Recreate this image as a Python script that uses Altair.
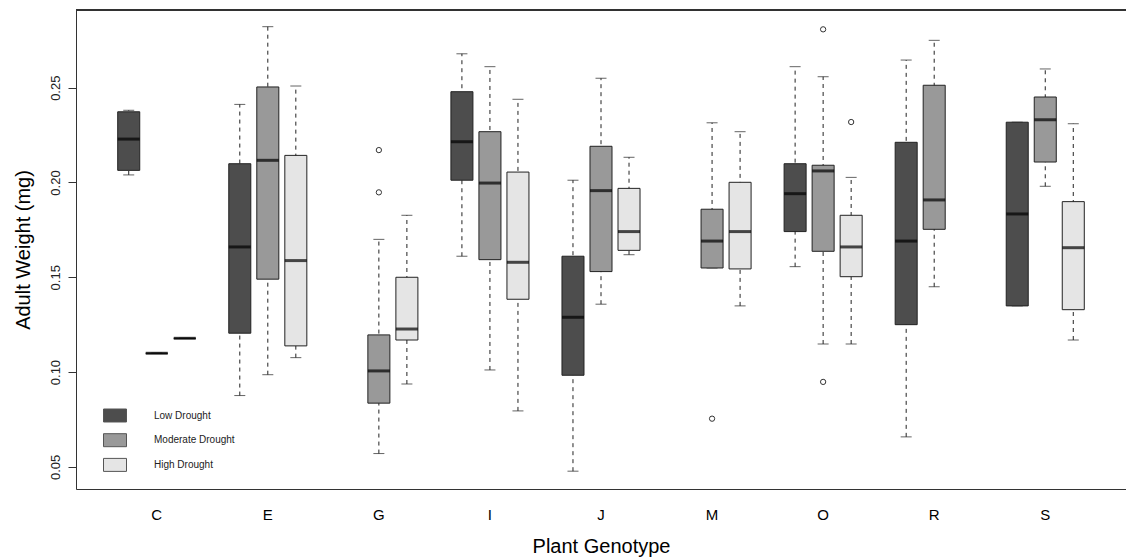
import altair as alt
import pandas as pd

genotypes = ["C", "E", "G", "I", "J", "M", "O", "R", "S"]
levels = ["Low Drought", "Moderate Drought", "High Drought"]
fills = ["#4d4d4d", "#999999", "#e5e5e5"]

box_genotype = ["C", "C", "C", "E", "E", "E", "G", "G", "I", "I", "I",
                "J", "J", "J", "M", "M", "O", "O", "O", "R", "R", "S", "S", "S"]
box_level = ["Low Drought", "Moderate Drought", "High Drought",
             "Low Drought", "Moderate Drought", "High Drought",
             "Moderate Drought", "High Drought",
             "Low Drought", "Moderate Drought", "High Drought",
             "Low Drought", "Moderate Drought", "High Drought",
             "Moderate Drought", "High Drought",
             "Low Drought", "Moderate Drought", "High Drought",
             "Low Drought", "Moderate Drought",
             "Low Drought", "Moderate Drought", "High Drought"]
lower_whisker = [0.2040, 0.1099, 0.1178, 0.0876, 0.0986, 0.1076, 0.0570, 0.0937,
                 0.1611, 0.1011, 0.0795, 0.0477, 0.1358, 0.1619, 0.1549, 0.1349,
                 0.1556, 0.1148, 0.1148, 0.0658, 0.1450, 0.1349, 0.1980, 0.1169]
q1 = [0.2064, 0.1099, 0.1178, 0.1205, 0.1490, 0.1138, 0.0836, 0.1169,
      0.2012, 0.1593, 0.1384, 0.0983, 0.1530, 0.1642, 0.1549, 0.1544,
      0.1741, 0.1637, 0.1503, 0.1250, 0.1753, 0.1349, 0.2108, 0.1329]
median = [0.2229, 0.1099, 0.1178, 0.1660, 0.2117, 0.1588, 0.1006, 0.1227,
          0.2215, 0.1997, 0.1579, 0.1289, 0.1957, 0.1741, 0.1691, 0.1741,
          0.1941, 0.2061, 0.1660, 0.1691, 0.1908, 0.1834, 0.2331, 0.1656]
q3 = [0.2373, 0.1099, 0.1178, 0.2099, 0.2504, 0.2143, 0.1196, 0.1500,
      0.2479, 0.2268, 0.2055, 0.1611, 0.2191, 0.1969, 0.1859, 0.2001,
      0.2099, 0.2091, 0.1827, 0.2212, 0.2513, 0.2318, 0.2451, 0.1899]
upper_whisker = [0.2381, 0.1099, 0.1178, 0.2412, 0.2822, 0.2509, 0.1700, 0.1827,
                 0.2679, 0.2611, 0.2439, 0.2012, 0.2550, 0.2133, 0.2315, 0.2268,
                 0.2611, 0.2558, 0.2027, 0.2646, 0.2750, 0.2318, 0.2599, 0.2310]

outlier_genotype = ["G", "G", "M", "O", "O", "O"]
outlier_level = ["Moderate Drought", "Moderate Drought", "Moderate Drought",
                 "Moderate Drought", "Moderate Drought", "High Drought"]
outlier_value = [0.2171, 0.1948, 0.0754, 0.2808, 0.0948, 0.2319]

y_ticks = [0.05, 0.10, 0.15, 0.20, 0.25]

boxes = pd.DataFrame({
    "genotype": box_genotype, "level": box_level,
    "lo": lower_whisker, "q1": q1, "med": median, "q3": q3, "hi": upper_whisker,
})
outliers = pd.DataFrame({"genotype": outlier_genotype, "level": outlier_level,
                         "value": outlier_value})

W, H = 1050, 479
FONT = "Liberation Sans"

x_scale = alt.Scale(domain=genotypes, type="band", paddingInner=0, paddingOuter=0.227)
off_scale = alt.Scale(domain=levels, type="band", paddingInner=0.214, paddingOuter=0.589)
y_scale = alt.Scale(domain=[0.0383, 0.291], nice=False, zero=False)

x_axis = alt.Axis(title="Plant Genotype", ticks=False, domain=True, domainColor="#333333",
                  domainWidth=1, labelAngle=0, labelFont=FONT, labelFontSize=15,
                  labelColor="#000000", labelPadding=18, labelBaseline="top",
                  titleFont=FONT, titleFontSize=20, titleFontWeight="normal",
                  titleColor="#000000", titleX=W / 2, titleY=63,
                  titleBaseline="alphabetic", titleAlign="center", grid=False)
y_axis = alt.Axis(title="Adult Weight (mg)", values=y_ticks, format=".2f", grid=False,
                  domain=True, domainColor="#333333", domainWidth=1,
                  ticks=True, tickSize=8, tickColor="#333333", tickWidth=1,
                  labelAngle=270, labelAlign="center", labelBaseline="alphabetic",
                  labelPadding=9, labelFont=FONT, labelFontSize=13, labelColor="#222222",
                  titleFont=FONT, titleFontSize=20, titleFontWeight="normal",
                  titleColor="#000000", titleAngle=270, titleX=-47, titleY=H / 2,
                  titleAlign="center", titleBaseline="alphabetic")

X = alt.X("genotype:N", scale=x_scale, axis=x_axis)
XO = alt.XOffset("level:N", scale=off_scale)

base = alt.Chart(boxes)

whiskers = base.mark_rule(color="#222222", strokeWidth=1, strokeDash=[4, 4]).encode(
    x=X, xOffset=XO,
    y=alt.Y("lo:Q", scale=y_scale, axis=y_axis), y2="hi:Q")

caps_lo = base.mark_tick(color="#222222", size=11, thickness=1).encode(
    x=X, xOffset=XO, y=alt.Y("lo:Q", scale=y_scale, axis=y_axis))
caps_hi = base.mark_tick(color="#222222", size=11, thickness=1).encode(
    x=X, xOffset=XO, y=alt.Y("hi:Q", scale=y_scale, axis=y_axis))

bars = base.mark_bar(stroke="#222222", strokeWidth=1).encode(
    x=X, xOffset=XO,
    y=alt.Y("q1:Q", scale=y_scale, axis=y_axis), y2="q3:Q",
    color=alt.Color("level:N", scale=alt.Scale(domain=levels, range=fills),
                    legend=alt.Legend(title=None, orient="none", legendX=27, legendY=393.5,
                                      padding=0, symbolType="M-1,-0.565H1V0.565H-1Z",
                                      symbolSize=529, symbolStrokeColor="#555555",
                                      symbolStrokeWidth=1, symbolOpacity=1,
                                      labelFont=FONT, labelFontSize=10,
                                      labelColor="#222222", labelOffset=27,
                                      rowPadding=3.7, labelBaseline="middle")))

medians = base.mark_tick(color="#000000", size=22, thickness=3).encode(
    x=X, xOffset=XO, y=alt.Y("med:Q", scale=y_scale, axis=y_axis))

points = alt.Chart(outliers).mark_point(shape="circle", filled=False, color="#333333",
                                        size=28, strokeWidth=1, opacity=1).encode(
    x=X, xOffset=XO, y=alt.Y("value:Q", scale=y_scale, axis=y_axis))

top_line = alt.Chart(boxes).mark_rule(color="#333333", strokeWidth=1).encode(
    y=alt.value(0), x=alt.value(0), x2=alt.value(W))

chart = alt.layer(whiskers, caps_lo, caps_hi, bars, medians, points, top_line).properties(
    width=W, height=H,
    autosize=alt.AutoSizeParams(type="none"),
    padding={"left": 76, "top": 10, "right": 0, "bottom": 68},
).configure_view(stroke=None).configure(background="#ffffff")

chart.save("out.html", embed_options={"renderer": "svg", "actions": False})
